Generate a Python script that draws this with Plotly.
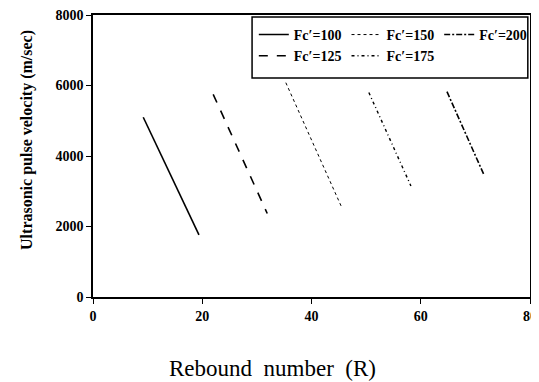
import plotly.graph_objects as go

series_names = ["Fc\u2032=100", "Fc\u2032=125", "Fc\u2032=150", "Fc\u2032=175", "Fc\u2032=200"]
x_start = [9.2, 22.0, 35.3, 50.5, 64.8]
x_end = [19.4, 31.9, 45.6, 58.2, 71.5]
y_start = [5100, 5750, 6080, 5800, 5825]
y_end = [1760, 2370, 2520, 3150, 3490]
dashes = ["solid", "dash", "dot", "3px,3px,1px,3px", "6px,2px,2px,2px"]
widths = [1.6, 1.6, 1.0, 1.4, 1.6]
groups = ["a", "a", "b", "b", "c"]

x_ticks = [0, 20, 40, 60, 80]
y_ticks = [0, 2000, 4000, 6000, 8000]
x_title = "Rebound\u00a0\u00a0number\u00a0\u00a0(R)"
y_title = "Ultrasonic pulse velocity (m/sec)"

fig = go.Figure()
for i, name in enumerate(series_names):
    fig.add_trace(go.Scatter(
        x=[x_start[i], x_end[i]], y=[y_start[i], y_end[i]],
        mode="lines", name=name, legendgroup=groups[i],
        line=dict(color="black", width=widths[i], dash=dashes[i]),
    ))

font_family = "Liberation Serif"

# legend frame
fig.add_shape(type="rect", xref="paper", yref="paper",
              x0=0.364, x1=0.995, y0=0.777, y1=0.993,
              line=dict(color="black", width=1.5), fillcolor="white", layer="above")

fig.add_annotation(text=x_title, xref="paper", yref="paper", x=0.41, y=-0.252,
                   xanchor="center", yanchor="middle", showarrow=False,
                   font=dict(family=font_family, size=23, color="black"))
fig.add_annotation(text=y_title, xref="paper", yref="paper", x=-0.151, y=0.557,
                   xanchor="center", yanchor="middle", showarrow=False, textangle=-90,
                   font=dict(family=font_family, size=16, color="black", weight="bold"))

fig.update_layout(
    width=539, height=382,
    margin=dict(l=85, r=17, t=7, b=93),
    paper_bgcolor="white", plot_bgcolor="white",
    font=dict(family=font_family, color="black"),
    showlegend=True,
    legend=dict(
        orientation="h", x=0.368, xanchor="left", y=0.986, yanchor="top",
        borderwidth=0, bgcolor="rgba(0,0,0,0)",
        font=dict(family=font_family, size=14, color="black", weight="bold"),
        tracegroupgap=4, itemwidth=30,
    ),
    xaxis=dict(
        range=[0, 80], tickvals=x_ticks, showgrid=False, zeroline=False,
        showline=True, linecolor="black", linewidth=1.5, mirror=True,
        ticks="outside", ticklen=5, tickwidth=1.2, tickcolor="black",
        automargin=False, ticklabeloverflow="allow",
        tickfont=dict(family=font_family, size=14, weight="bold"),
    ),
    yaxis=dict(
        range=[0, 8000], tickvals=y_ticks, showgrid=False, zeroline=False,
        showline=True, linecolor="black", linewidth=1.5, mirror=True,
        ticks="outside", ticklen=5, tickwidth=1.2, tickcolor="black",
        automargin=False, ticklabeloverflow="allow",
        tickfont=dict(family=font_family, size=14, weight="bold"),
    ),
)

fig.write_html("out.html")
